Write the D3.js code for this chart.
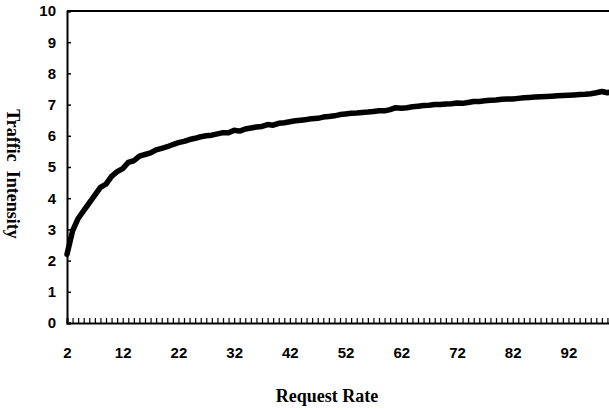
<!DOCTYPE html>
<html>
<head>
<meta charset="utf-8">
<script src="https://cdn.jsdelivr.net/npm/d3@7"></script>
<style>
  body { margin: 0; background: #fff; }
  .tick text { font-family: "Liberation Sans Narrow", "Liberation Sans", Arial, sans-serif; font-weight: bold; }
</style>
</head>
<body>
<div id="chart"></div>
<script>
// request rate 2..100, traffic intensity
const requestRate = d3.range(2, 101);
const intensity = [
  2.2, 2.95, 3.35, 3.6, 3.85, 4.1, 4.35, 4.45, 4.7, 4.85,
  4.95, 5.15, 5.2, 5.35, 5.4, 5.45, 5.55, 5.6, 5.65, 5.72,
  5.78, 5.82, 5.88, 5.92, 5.97, 6.0, 6.02, 6.06, 6.1, 6.1,
  6.18, 6.15, 6.22, 6.25, 6.28, 6.3, 6.36, 6.34, 6.4, 6.42,
  6.45, 6.48, 6.5, 6.52, 6.55, 6.56, 6.6, 6.62, 6.64, 6.68,
  6.7, 6.72, 6.73, 6.75, 6.76, 6.78, 6.8, 6.8, 6.84, 6.9,
  6.88, 6.9, 6.93, 6.95, 6.97, 6.98, 7.0, 7.0, 7.02, 7.03,
  7.05, 7.04, 7.07, 7.1, 7.1, 7.12, 7.14, 7.15, 7.17, 7.18,
  7.18, 7.2, 7.22, 7.23, 7.24, 7.25, 7.26, 7.27, 7.28, 7.29,
  7.3, 7.31, 7.32, 7.33, 7.35, 7.38, 7.42, 7.38, 7.42
];
const xTickLabels = [2, 12, 22, 32, 42, 52, 62, 72, 82, 92];
const yTickLabels = [0, 1, 2, 3, 4, 5, 6, 7, 8, 9, 10];

const width = 609, height = 410;
const plotLeft = 67, plotTop = 11, plotBottom = 323, plotRight = 613;

const svg = d3.select('#chart').append('svg')
  .attr('width', width)
  .attr('height', height);

const x = d3.scaleLinear().domain([2, 100]).range([plotLeft, plotRight]);
const y = d3.scaleLinear().domain([0, 10]).range([plotBottom, plotTop]);

// top frame line
svg.append('line')
  .attr('x1', plotLeft).attr('x2', plotRight)
  .attr('y1', plotTop).attr('y2', plotTop)
  .attr('stroke', '#000').attr('stroke-width', 2);

// y axis
const yAxis = svg.append('g')
  .attr('transform', `translate(${plotLeft},0)`)
  .call(d3.axisLeft(y).tickValues(yTickLabels).tickSize(-4).tickPadding(10).tickFormat(d3.format('d')));
yAxis.select('.domain').attr('stroke-width', 2);
yAxis.selectAll('.tick line').attr('stroke-width', 1.5);
yAxis.selectAll('.tick text').style('font-size', '15px').attr('dx', '-1');

// x axis: minor ticks at every unit, labels every 10
const xAxis = svg.append('g')
  .attr('transform', `translate(0,${plotBottom})`)
  .call(d3.axisBottom(x).tickValues(requestRate).tickSize(-5).tickPadding(24)
    .tickFormat(d => xTickLabels.includes(d) ? d : ''));
xAxis.select('.domain').attr('stroke-width', 2);
xAxis.selectAll('.tick line').attr('stroke-width', 1.2);
xAxis.selectAll('.tick text').style('font-size', '15px');

// curve
const line = d3.line()
  .x((d, i) => x(requestRate[i]))
  .y(d => y(d));

svg.append('path')
  .datum(intensity)
  .attr('d', line)
  .attr('fill', 'none')
  .attr('stroke', '#000')
  .attr('stroke-width', 5.5)
  .attr('stroke-linejoin', 'round')
  .attr('stroke-linecap', 'round');

// axis titles
svg.append('text')
  .attr('x', 327).attr('y', 402)
  .attr('text-anchor', 'middle')
  .style('font-family', '"Liberation Serif", "Times New Roman", serif')
  .style('font-weight', 'bold')
  .style('font-size', '18px')
  .text('Request Rate');

svg.append('text')
  .attr('transform', 'translate(7,174) rotate(90)')
  .attr('text-anchor', 'middle')
  .style('font-family', '"Liberation Serif", "Times New Roman", serif')
  .style('font-weight', 'bold')
  .style('font-size', '18px')
  .style('white-space', 'pre')
  .text('Traffic  Intensity');
</script>
</body>
</html>
